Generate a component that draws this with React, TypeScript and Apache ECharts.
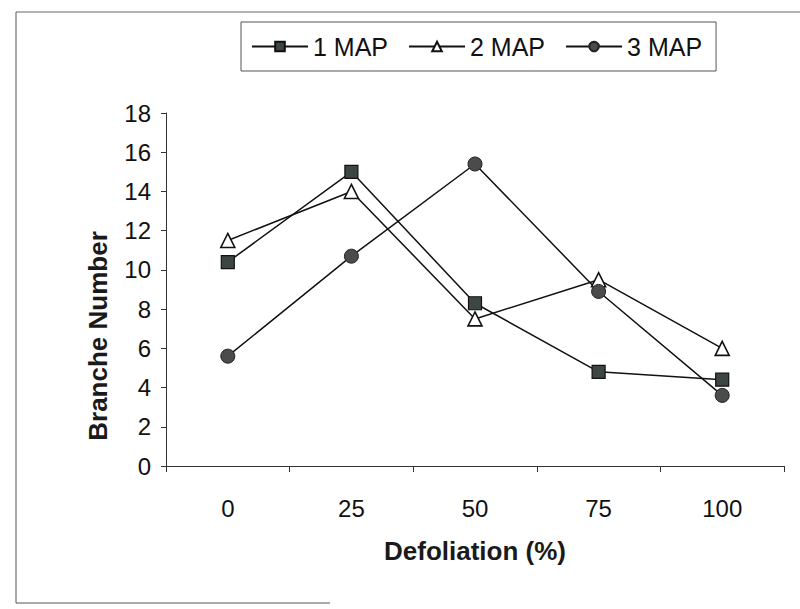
import React, { useEffect, useRef } from "react";
import * as echarts from "echarts";

const categories = ["0", "25", "50", "75", "100"];
const map1 = [10.4, 15.0, 8.3, 4.8, 4.4];
const map2 = [11.5, 14.0, 7.5, 9.5, 6.0];
const map3 = [5.6, 10.7, 15.4, 8.9, 3.6];
const seriesNames = ["1 MAP", "2 MAP", "3 MAP"];
const yTitle = "Branche Number";
const xTitle = "Defoliation (%)";

export default function App() {
  const ref = useRef<HTMLDivElement>(null);
  useEffect(() => {
    if (!ref.current) return;
    const chart = echarts.init(ref.current, null, { renderer: "svg" });
    const font = "Liberation Sans, Arial, sans-serif";
    const lineStyle = { color: "#111", width: 1.5 };
    chart.setOption({
      animation: false,
      backgroundColor: "#fff",
      textStyle: { fontFamily: font },
      grid: { left: 166, right: 16, top: 113, bottom: 143, containLabel: false },
      legend: {
        top: 22,
        left: 241,
        itemWidth: 56,
        itemHeight: 12,
        itemGap: 20,
        padding: [12, 14, 12, 10],
        borderColor: "#555",
        borderWidth: 1,
        textStyle: { fontSize: 25, color: "#111", fontFamily: font },
        data: seriesNames,
      },
      xAxis: {
        type: "category",
        data: categories,
        boundaryGap: true,
        name: xTitle,
        nameLocation: "middle",
        nameGap: 72,
        nameTextStyle: { fontSize: 26, fontWeight: "bold", color: "#1a1a1a", fontFamily: font },
        axisLine: { lineStyle: { color: "#333", width: 1 } },
        axisTick: { show: true, length: 6, inside: false, alignWithLabel: false, lineStyle: { color: "#333" } },
        axisLabel: { fontSize: 24, color: "#111", margin: 30, fontFamily: font },
        splitLine: { show: false },
      },
      yAxis: {
        type: "value",
        min: 0,
        max: 18,
        interval: 2,
        axisLine: { show: true, lineStyle: { color: "#333", width: 1 } },
        axisTick: { show: true, length: 5, lineStyle: { color: "#333" } },
        axisLabel: { fontSize: 24, color: "#111", margin: 15, fontFamily: font },
        splitLine: { show: false },
      },
      series: [
        {
          name: seriesNames[0],
          type: "line",
          data: map1,
          symbol: "rect",
          symbolSize: 13,
          lineStyle,
          itemStyle: { color: "#3c4643", borderColor: "#111", borderWidth: 1.2 },
        },
        {
          name: seriesNames[1],
          type: "line",
          data: map2,
          symbol: "triangle",
          symbolSize: 14,
          lineStyle,
          itemStyle: { color: "#fff", borderColor: "#111", borderWidth: 1.6 },
        },
        {
          name: seriesNames[2],
          type: "line",
          data: map3,
          symbol: "circle",
          symbolSize: 14,
          lineStyle,
          itemStyle: { color: "#4a4c4c", borderColor: "#222", borderWidth: 1 },
        },
      ],
      graphic: [
        { type: "line", shape: { x1: 16, y1: 12, x2: 800, y2: 12 }, style: { stroke: "#666", lineWidth: 1 } },
        { type: "line", shape: { x1: 16, y1: 12, x2: 16, y2: 603 }, style: { stroke: "#555", lineWidth: 1 } },
        { type: "line", shape: { x1: 16, y1: 603, x2: 330, y2: 603 }, style: { stroke: "#555", lineWidth: 1 } },
        {
          type: "text",
          x: 98,
          y: 336,
          rotation: Math.PI / 2,
          style: {
            text: yTitle,
            font: "bold 26px Liberation Sans, Arial, sans-serif",
            fill: "#1a1a1a",
            align: "center",
            verticalAlign: "middle",
          },
        },
      ],
    });
    return () => chart.dispose();
  }, []);
  return <div ref={ref} style={{ width: 800, height: 609, position: "absolute", left: 0, top: 0 }} />;
}
